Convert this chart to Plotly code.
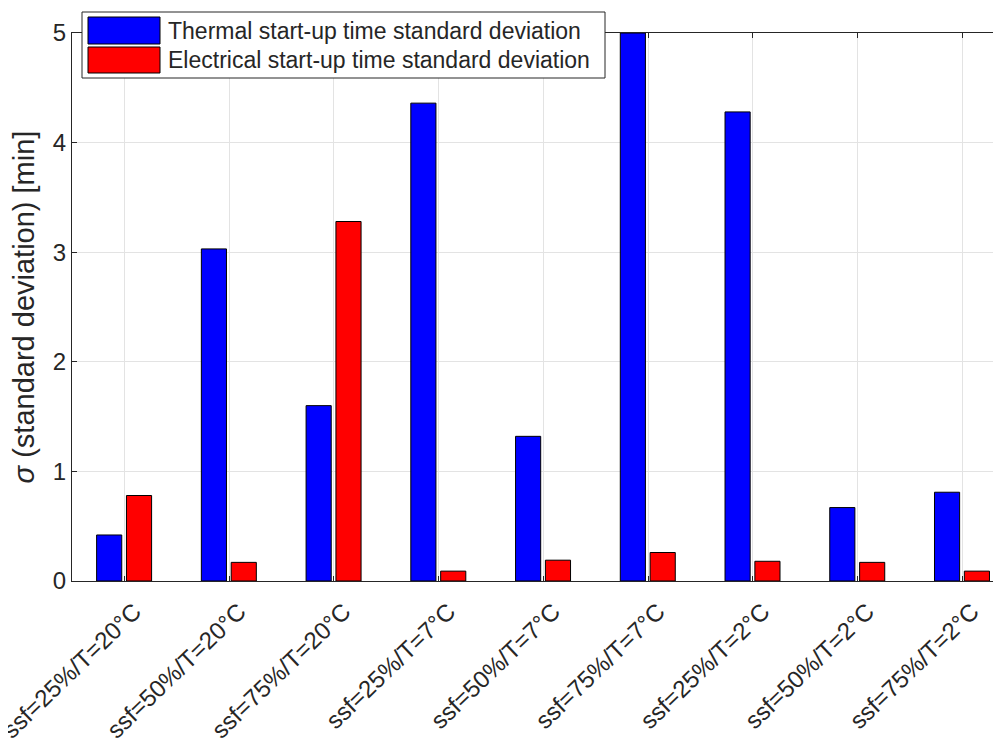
import plotly.graph_objects as go

categories = ["ssf=25%/T=20°C", "ssf=50%/T=20°C", "ssf=75%/T=20°C",
              "ssf=25%/T=7°C", "ssf=50%/T=7°C", "ssf=75%/T=7°C",
              "ssf=25%/T=2°C", "ssf=50%/T=2°C", "ssf=75%/T=2°C"]
thermal_std = [0.42, 3.03, 1.60, 4.36, 1.32, 5.0, 4.28, 0.67, 0.81]
electrical_std = [0.78, 0.17, 3.28, 0.09, 0.19, 0.26, 0.18, 0.17, 0.09]
series_names = ["Thermal start-up time standard deviation",
                "Electrical start-up time standard deviation"]
y_ticks = [0, 1, 2, 3, 4, 5]

# page has an 8px body margin; figure sized so that it fills the window
OFF = 8
W, H = 993, 745
L, R, T, B = 64, 0, 25, 172
pw, ph = W - L - R, H - T - B

pos = list(range(1, len(categories) + 1))

def px_x(p):  # page pixel -> paper
    return (p - OFF - L) / pw

def px_y(p):
    return (H - B - (p - OFF)) / ph

fig = go.Figure()
fig.add_trace(go.Bar(x=pos, y=thermal_std, name=series_names[0],
                     width=0.24, offset=-0.265,
                     marker=dict(color="#0000ff", line=dict(color="#000000", width=1)),
                     showlegend=False))
fig.add_trace(go.Bar(x=pos, y=electrical_std, name=series_names[1],
                     width=0.24, offset=0.02,
                     marker=dict(color="#ff0000", line=dict(color="#000000", width=1)),
                     showlegend=False))

axis_col = "#262626"
fig.update_layout(
    width=W, height=H,
    margin=dict(l=L, r=R, t=T, b=B, autoexpand=False),
    paper_bgcolor="white", plot_bgcolor="white",
    font=dict(family="Liberation Sans, Arial, sans-serif", color=axis_col),
    barmode="group",
    xaxis=dict(range=[0.5, 9.37], tickmode="array", tickvals=pos, ticktext=categories,
               tickangle=-44, tickfont=dict(size=24, color=axis_col),
               ticklabeloverflow="allow", ticklabelshift=10, ticklabelstandoff=6,
               showgrid=True, gridcolor="#e3e3e3", gridwidth=1,
               showline=True, linecolor=axis_col, linewidth=1, mirror="ticks",
               ticks="inside", ticklen=5, tickcolor=axis_col, zeroline=False,
               automargin=False),
    yaxis=dict(range=[0, 5], tickmode="array", tickvals=y_ticks,
               tickfont=dict(size=24, color=axis_col),
               showgrid=True, gridcolor="#e3e3e3", gridwidth=1,
               showline=True, linecolor=axis_col, linewidth=1, mirror=False,
               ticks="inside", ticklen=5, tickcolor=axis_col, zeroline=False,
               automargin=False,
               title=dict(text="<i>σ</i> (standard deviation) [min]",
                          font=dict(size=29, color=axis_col), standoff=10)),
)

# Legend box drawn as shapes (MATLAB-style wide swatches)
shapes = [
    dict(type="rect", xref="paper", yref="paper", layer="above",
         x0=px_x(82), x1=px_x(605), y0=px_y(78), y1=px_y(12),
         fillcolor="white", line=dict(color=axis_col, width=1)),
    dict(type="rect", xref="paper", yref="paper", layer="above",
         x0=px_x(88), x1=px_x(160), y0=px_y(44), y1=px_y(17),
         fillcolor="#0000ff", line=dict(color="#000000", width=1)),
    dict(type="rect", xref="paper", yref="paper", layer="above",
         x0=px_x(88), x1=px_x(160), y0=px_y(73), y1=px_y(47),
         fillcolor="#ff0000", line=dict(color="#000000", width=1)),
]
annotations = [
    dict(xref="paper", yref="paper", x=px_x(166), y=px_y(30.5), xanchor="left",
         yanchor="middle", showarrow=False, text=series_names[0],
         font=dict(size=23, color=axis_col)),
    dict(xref="paper", yref="paper", x=px_x(166), y=px_y(60), xanchor="left",
         yanchor="middle", showarrow=False, text=series_names[1],
         font=dict(size=23, color=axis_col)),
]
fig.update_layout(shapes=shapes, annotations=annotations)

fig.write_html("out.html")
